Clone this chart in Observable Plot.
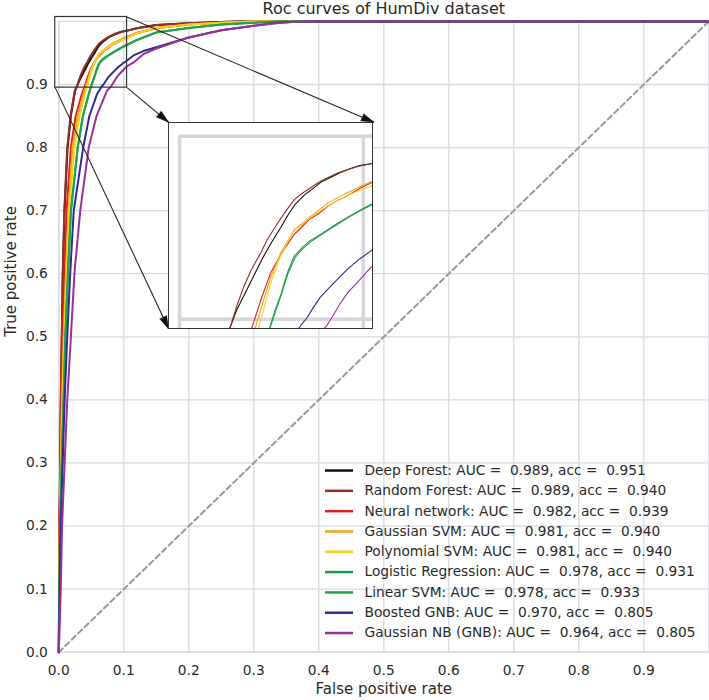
<!DOCTYPE html>
<html><head><meta charset="utf-8">
<script src="https://cdn.jsdelivr.net/npm/d3@7"></script>
<script src="https://cdn.jsdelivr.net/npm/@observablehq/plot@0.6"></script>
<style>
body{margin:0;background:#fff;}
#wrap{position:relative;width:709px;height:700px;font-family:"DejaVu Sans",sans-serif;}
#wrap svg text{white-space:pre;}
#insetBox{position:absolute;overflow:hidden;box-sizing:border-box;border:1px solid #333;background:#fff;}
</style></head><body><div id="wrap"></div>
<script>
// ---- data ----
const seriesNames = ["Deep Forest","Random Forest","Neural network","Gaussian SVM","Polynomial SVM","Logistic Regression","Linear SVM","Boosted GNB","Gaussian NB (GNB)"];
const seriesColors = ["#111111","#952e22","#e0201c","#f5a11c","#f7d31e","#1c9a44","#22a34a","#2e2e8f","#9a2f9a"];
const aucValues = ["0.989","0.989","0.982","0.981","0.981","0.978","0.978","0.970","0.964"];
const accValues = ["0.951","0.940","0.939","0.940","0.940","0.931","0.933","0.805","0.805"];

const deepForest = [[0,0],[0.0005,0.1],[0.001,0.2],[0.0022,0.3],[0.0033,0.4],[0.0047,0.5],[0.0062,0.6],[0.0088,0.7],[0.0135,0.8],[0.0185,0.85],[0.025,0.89],[0.0278,0.8964],[0.031,0.905],[0.036,0.915],[0.041,0.925],[0.0455,0.934],[0.05,0.942],[0.055,0.95],[0.059,0.957],[0.063,0.963],[0.068,0.968],[0.072,0.971],[0.077,0.975],[0.081,0.977],[0.087,0.98],[0.092,0.982],[0.098,0.984],[0.104,0.985],[0.12,0.989],[0.15,0.9943],[0.2,0.997],[0.25,0.999],[0.28,1],[1,1]];
const randomForest = [[0,0],[0.0005,0.1],[0.001,0.2],[0.002,0.3],[0.003,0.4],[0.0045,0.5],[0.006,0.6],[0.0085,0.7],[0.013,0.8],[0.018,0.85],[0.0246,0.89],[0.0278,0.8964],[0.031,0.907],[0.035,0.918],[0.039,0.927],[0.0442,0.9364],[0.048,0.944],[0.053,0.952],[0.057,0.958],[0.0624,0.9654],[0.067,0.969],[0.0715,0.972],[0.076,0.975],[0.0806,0.9773],[0.086,0.98],[0.092,0.982],[0.098,0.9838],[0.104,0.985],[0.12,0.989],[0.15,0.9943],[0.2,0.997],[0.25,0.999],[0.28,1],[1,1]];
const neuralNetwork = [[0,0],[0.0006,0.1],[0.0012,0.2],[0.0025,0.3],[0.0036,0.4],[0.0056,0.5],[0.0085,0.6],[0.012,0.7],[0.0186,0.8],[0.026,0.85],[0.0355,0.885],[0.0397,0.8964],[0.044,0.91],[0.0496,0.9255],[0.056,0.937],[0.0624,0.9464],[0.067,0.951],[0.071,0.955],[0.076,0.958],[0.0806,0.9618],[0.086,0.965],[0.092,0.968],[0.098,0.9715],[0.104,0.9745],[0.12,0.981],[0.15,0.989],[0.2,0.995],[0.25,0.998],[0.3,1],[1,1]];
const gaussianSvm = [[0,0],[0.0007,0.1],[0.0015,0.2],[0.003,0.3],[0.005,0.4],[0.0075,0.5],[0.011,0.6],[0.015,0.7],[0.021,0.8],[0.029,0.85],[0.038,0.885],[0.0415,0.8964],[0.045,0.908],[0.0496,0.923],[0.0551,0.9364],[0.059,0.943],[0.0624,0.949],[0.067,0.9525],[0.071,0.956],[0.0806,0.9635],[0.086,0.9665],[0.092,0.9695],[0.098,0.9725],[0.104,0.975],[0.12,0.982],[0.15,0.99],[0.2,0.995],[0.25,0.998],[0.3,1],[1,1]];
const polynomialSvm = [[0,0],[0.0008,0.1],[0.0017,0.2],[0.0034,0.3],[0.0056,0.4],[0.0085,0.5],[0.012,0.6],[0.016,0.7],[0.024,0.8],[0.032,0.85],[0.04,0.885],[0.0433,0.8964],[0.047,0.91],[0.05,0.921],[0.0551,0.935],[0.059,0.9425],[0.0624,0.9485],[0.067,0.952],[0.071,0.9555],[0.0806,0.962],[0.086,0.965],[0.092,0.968],[0.098,0.9705],[0.104,0.9727],[0.12,0.981],[0.15,0.9895],[0.2,0.995],[0.25,0.998],[0.3,1],[1,1]];
const logisticRegression = [[0,0],[0.001,0.1],[0.002,0.2],[0.0045,0.3],[0.0073,0.4],[0.01,0.5],[0.014,0.6],[0.0186,0.7],[0.029,0.8],[0.037,0.85],[0.046,0.885],[0.0493,0.8964],[0.052,0.905],[0.055,0.913],[0.0585,0.925],[0.0624,0.9346],[0.067,0.9395],[0.071,0.943],[0.076,0.946],[0.0806,0.949],[0.086,0.9525],[0.092,0.956],[0.098,0.9595],[0.104,0.9627],[0.12,0.9705],[0.15,0.9826],[0.2,0.9895],[0.25,0.995],[0.3,0.998],[0.335,1],[1,1]];
const linearSvm = [[0,0],[0.001,0.1],[0.0021,0.2],[0.0046,0.3],[0.0074,0.4],[0.0102,0.5],[0.0142,0.6],[0.0188,0.7],[0.0292,0.8],[0.0372,0.85],[0.0462,0.885],[0.0496,0.8964],[0.0525,0.905],[0.0555,0.914],[0.059,0.925],[0.063,0.934],[0.067,0.9385],[0.0715,0.9425],[0.076,0.9455],[0.0806,0.9485],[0.086,0.952],[0.092,0.9558],[0.098,0.9592],[0.104,0.9622],[0.12,0.9703],[0.15,0.9824],[0.2,0.9894],[0.25,0.995],[0.3,0.998],[0.335,1],[1,1]];
const boostedGnb = [[0,0],[0.0012,0.1],[0.0028,0.2],[0.006,0.3],[0.009,0.4],[0.013,0.5],[0.0175,0.6],[0.023,0.7],[0.0375,0.8],[0.047,0.85],[0.059,0.885],[0.0657,0.8964],[0.0695,0.901],[0.0725,0.906],[0.0765,0.912],[0.0806,0.9164],[0.086,0.922],[0.092,0.928],[0.098,0.933],[0.104,0.9373],[0.115,0.946],[0.13,0.953],[0.15,0.959],[0.2,0.9746],[0.25,0.986],[0.3,0.9932],[0.335,0.998],[0.37,1],[1,1]];
const gaussianNb = [[0,0],[0.003,0.1],[0.005,0.2],[0.009,0.3],[0.013,0.4],[0.0186,0.5],[0.024,0.6],[0.033,0.7],[0.046,0.8],[0.058,0.85],[0.074,0.89],[0.08,0.8964],[0.0835,0.902],[0.087,0.908],[0.0915,0.9146],[0.0975,0.921],[0.104,0.9282],[0.115,0.935],[0.13,0.948],[0.15,0.957],[0.2,0.9746],[0.25,0.986],[0.3,0.9932],[0.335,0.997],[0.37,1],[1,1]];
const curves = [deepForest, randomForest, neuralNetwork, gaussianSvm, polynomialSvm, logisticRegression, linearSvm, boostedGnb, gaussianNb];

const xTicks = [0,0.1,0.2,0.3,0.4,0.5,0.6,0.7,0.8,0.9];
const yTicks = [0,0.1,0.2,0.3,0.4,0.5,0.6,0.7,0.8,0.9];
const diagonal = [[0,0],[1,1]];
const titleText = "Roc curves of HumDiv dataset";
const xLabel = "False positive rate";
const yLabel = "True positive rate";

// ---- layout (not data) ----
const W0 = 709, H0 = 700, mL = 58.3, mR = 0.7, mT = 20.9, mB = 48.3;
const zoomX = [-0.0055, 0.105], zoomY = [0.895, 1.007];
const insetBoxX = [0.169, 0.485], insetBoxY = [0.5125, 0.840];
const legendLineX = [0.4103, 0.4534], legendTextX = 0.4703, legendTop = 0.288, legendStep = 0.0322;
const gridColor = "#dadade";
const textColor = "#2a2a2a";

const rows = curves.flatMap((pts, i) => pts.map(([x, y]) => ({series: seriesNames[i], x, y})));
const legendRows = seriesNames.map((s, i) => ({
  series: s,
  label: `${s}: AUC =  ${aucValues[i]}, acc =  ${accValues[i]}`,
  y: legendTop - i * legendStep
}));
const pxX = x => mL + x * (W0 - mL - mR);
const pxY = y => (H0 - mB) - y * (H0 - mB - mT);
const connectors = [
  {x1: zoomX[1], y1: zoomY[1], x2: insetBoxX[1], y2: insetBoxY[1]},
  {x1: zoomX[1], y1: zoomY[0], x2: insetBoxX[0], y2: insetBoxY[1]},
  {x1: zoomX[0], y1: zoomY[0], x2: insetBoxX[0], y2: insetBoxY[0]}
].map(c => ({...c, angle: Math.atan2(pxX(c.x2) - pxX(c.x1), -(pxY(c.y2) - pxY(c.y1))) * 180 / Math.PI}));
const colorScale = {domain: seriesNames, range: seriesColors};

const main = Plot.plot({
  width: W0, height: H0,
  marginLeft: mL, marginRight: mR, marginTop: mT, marginBottom: mB,
  x: {domain: [0, 1]},
  y: {domain: [0, 1]},
  color: colorScale,
  style: {fontFamily: "'DejaVu Sans', sans-serif", fontSize: "13.75px", color: textColor, background: "white", overflow: "visible"},
  marks: [
    Plot.gridX(xTicks, {stroke: gridColor, strokeOpacity: 1, strokeWidth: 1.3}),
    Plot.gridY(yTicks, {stroke: gridColor, strokeOpacity: 1, strokeWidth: 1.3}),
    Plot.frame({stroke: gridColor, strokeWidth: 1.3}),
    Plot.axisX(xTicks, {tickSize: 0, tickPadding: 13, tickFormat: d3.format(".1f"), label: null, fill: textColor, fontSize: 13.75}),
    Plot.axisY(yTicks, {tickSize: 0, tickPadding: 11, tickFormat: d3.format(".1f"), label: null, fill: textColor, fontSize: 13.75}),
    Plot.line(diagonal, {x: d => d[0], y: d => d[1], stroke: "#999999", strokeWidth: 2, strokeDasharray: "5.5,3.5"}),
    Plot.line(rows, {x: "x", y: "y", z: "series", stroke: "series", strokeWidth: 2, curve: "linear"}),
    Plot.ruleY(legendRows, {y: "y", x1: legendLineX[0], x2: legendLineX[1], stroke: "series", strokeWidth: 2.5}),
    Plot.text(legendRows, {x: legendTextX, y: "y", text: "label", textAnchor: "start", fill: textColor, fontSize: 13.75}),
    Plot.rect([{x1: zoomX[0], x2: zoomX[1], y1: zoomY[0], y2: zoomY[1]}], {x1: "x1", x2: "x2", y1: "y1", y2: "y2", fill: "none", stroke: "#333", strokeWidth: 1.2}),
    Plot.link(connectors, {x1: "x1", y1: "y1", x2: "x2", y2: "y2", stroke: "#222", strokeWidth: 1.1}),
    Plot.vector(connectors, {x: "x2", y: "y2", rotate: "angle", length: 13, r: 3.8, shape: "spike", anchor: "end", fill: "#111", stroke: "#111", strokeWidth: 0.5}),
    Plot.text([titleText], {frameAnchor: "top", dy: -12.5, lineAnchor: "middle", fontSize: 16, fill: textColor}),
    Plot.text([xLabel], {frameAnchor: "bottom", dy: 36.5, lineAnchor: "middle", fontSize: 15, fill: textColor}),
    Plot.text([yLabel], {frameAnchor: "left", dx: -48, rotate: -90, fontSize: 15, fill: textColor})
  ]
});

const wrap = document.getElementById("wrap");
wrap.appendChild(main);

const sx = main.scale("x"), sy = main.scale("y");
const boxLeft = sx.apply(insetBoxX[0]), boxRight = sx.apply(insetBoxX[1]);
const boxTop = sy.apply(insetBoxY[1]), boxBottom = sy.apply(insetBoxY[0]);
const boxW = Math.round(boxRight - boxLeft), boxH = Math.round(boxBottom - boxTop);

const box = document.createElement("div");
box.id = "insetBox";
box.style.left = boxLeft + "px";
box.style.top = boxTop + "px";
box.style.width = boxW + "px";
box.style.height = boxH + "px";

const inset = Plot.plot({
  width: boxW - 2, height: boxH - 2, margin: 0,
  x: {domain: zoomX, axis: null},
  y: {domain: zoomY, axis: null},
  color: colorScale,
  style: {background: "white"},
  marks: [
    Plot.ruleY([0.9, 1.0], {x1: 0, x2: zoomX[1], stroke: "#d6d6dc", strokeWidth: 3.5}),
    Plot.ruleX([0, 0.1], {y1: zoomY[0], y2: 1.0, stroke: "#d6d6dc", strokeWidth: 3.5}),
    Plot.line(rows.filter(d => d.y >= 0.88 && d.x <= 0.13), {x: "x", y: "y", z: "series", stroke: "series", strokeWidth: 1.1})
  ]
});
box.appendChild(inset);
wrap.appendChild(box);
</script></body></html>
